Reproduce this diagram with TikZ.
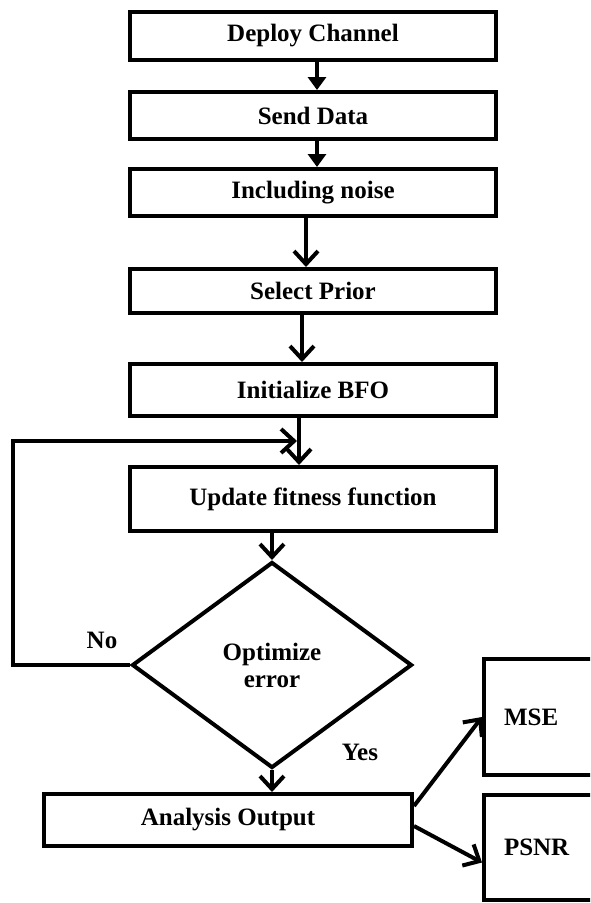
\documentclass[tikz,border=0pt]{standalone}
\usepackage{fontspec}
\setmainfont{Liberation Serif}
\usetikzlibrary{arrows.meta,shapes.geometric}

\begin{document}
\begin{tikzpicture}[x=1pt,y=-1pt,
  box/.style={draw,line width=4pt,minimum width=366pt,inner sep=0pt,
    font=\fontsize{25}{30}\selectfont\bfseries},
  sidebox/.style={draw,line width=4pt,minimum width=140pt,text width=100pt,
    align=left,inner sep=0pt,font=\fontsize{25}{30}\selectfont\bfseries},
  lbl/.style={font=\fontsize{25}{30}\selectfont\bfseries},
  tip/.style={line width=4pt,-{Triangle[length=13pt,width=18pt]}},
  vee/.style={line width=4pt,-{Straight Barb[length=13pt,width=24pt]}}]
\useasboundingbox (0,0) rectangle (590,903);
\clip (0,0) rectangle (590,903);

% main chain
\node[box,minimum height=48pt] (deploy) at (313,36) {Deploy Channel};
\node[box,minimum height=47pt] (send) at (313,115.5) {Send Data};
\node[box,minimum height=47pt] (noise) at (313,192.5) {Including noise};
\node[box,minimum height=44pt] (prior) at (313,291) {Select Prior};
\node[box,minimum height=52pt] (init) at (313,390) {Initialize BFO};
\node[box,minimum height=64pt] (update) at (313,499) {Update fitness function};

\node[draw,diamond,line width=4pt,minimum width=280pt,minimum height=206pt,
  inner sep=0pt,align=center,font=\fontsize{25}{27}\selectfont\bfseries]
  (optim) at (272,665) {Optimize\\error};

\node[box,minimum width=368pt,minimum height=52pt] (analysis) at (228,820) {Analysis Output};
\node[sidebox,minimum height=116pt] (mse) at (554,717) {MSE};
\node[sidebox,minimum height=105pt] (psnr) at (554,847.5) {PSNR};

\node[lbl] (no) at (102,640) {No};
\node[lbl] (yes) at (360,752) {Yes};

\coordinate (bend) at (13,441);
\coordinate (back) at (297,441);

% arrows
\draw[tip] ([xshift=4pt]deploy.south) -- ([xshift=4pt]send.north);
\draw[tip] ([xshift=4pt]send.south) -- ([xshift=4pt]noise.north);
\draw[vee] ([xshift=-7pt]noise.south) -- ([xshift=-7pt]prior.north);
\draw[vee] ([xshift=-11pt]prior.south) -- ([xshift=-11pt]init.north);
\draw[vee] ([xshift=-14pt]init.south) -- ([xshift=-14pt]update.north);
\draw[vee] (update.south -| optim.north) -- (optim.north);
\draw[vee] (optim.south) -- (optim.south |- analysis.north);
\draw[vee] (optim.west) -| (bend) -- (back);
\draw[vee] ([yshift=14pt]analysis.east) -- (mse.west);
\draw[vee] ([yshift=-6pt]analysis.east) -- ([yshift=-15pt]psnr.west);
\end{tikzpicture}
\end{document}
